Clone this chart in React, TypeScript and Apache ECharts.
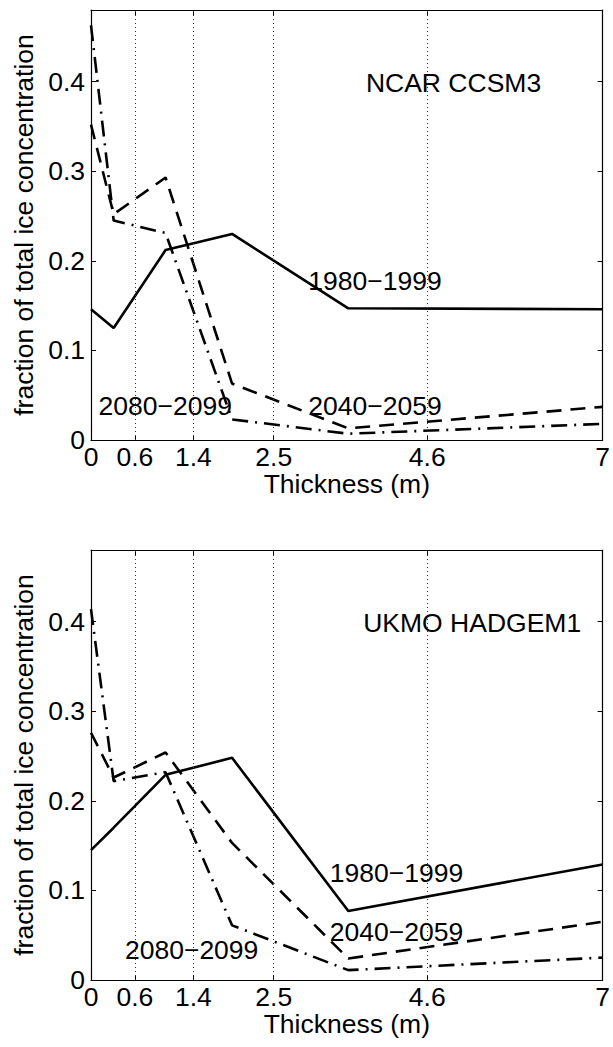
import React, { useEffect, useRef } from "react";
import * as echarts from "echarts";

// Thickness (m) at which the fractions are given
const thickness = [0, 0.31, 1.02, 1.93, 3.52, 7];
// category boundaries drawn as dotted grid lines / tick labels
const xTicks = [0, 0.6, 1.4, 2.5, 4.6, 7];
const gridBounds = [0.6, 1.4, 2.5, 4.6];
const yTicks = [0, 0.1, 0.2, 0.3, 0.4];

// NCAR CCSM3
const ncar1980 = [0.146, 0.125, 0.212, 0.23, 0.147, 0.146];
const ncar2040 = [0.352, 0.252, 0.293, 0.063, 0.013, 0.037];
const ncar2080 = [0.463, 0.245, 0.231, 0.023, 0.007, 0.018];

// UKMO HADGEM1
const ukmo1980 = [0.145, 0.17, 0.229, 0.248, 0.077, 0.129];
const ukmo2040 = [0.276, 0.226, 0.254, 0.153, 0.024, 0.065];
const ukmo2080 = [0.414, 0.222, 0.232, 0.061, 0.011, 0.025];

const panelTitles = ["NCAR CCSM3", "UKMO HADGEM1"];
const periods = ["1980\u22121999", "2040\u22122059", "2080\u22122099"];

// text annotation anchors in data units [x, y]
const ncarLabelPos = [
  [4.96, 0.399],
  [3.885, 0.1775],
  [3.885, 0.038],
  [1.015, 0.038],
];
const ukmoLabelPos = [
  [5.215, 0.399],
  [4.18, 0.119],
  [4.18, 0.054],
  [1.377, 0.034],
];

const FONT = "'Liberation Sans', Arial, Helvetica, sans-serif";
const FS = 26.5;

function pairs(ys: number[]) {
  return thickness.map((x, i) => [x, ys[i]]);
}

function buildPanel(g: number, lines: number[][], title: string, labelPos: number[][]) {
  const xb = 2 * g;
  const yl = 2 * g;
  const axisLine = { show: true, onZero: false, lineStyle: { color: "#000", width: 1.2 } };
  const xAxes = [
    {
      type: "value",
      gridIndex: g,
      min: 0,
      max: 7,
      position: "bottom",
      name: "Thickness (m)",
      nameLocation: "middle",
      nameGap: 27,
      nameTextStyle: { fontFamily: FONT, fontSize: FS, color: "#000" },
      axisLine,
      axisTick: { show: true, inside: true, length: 5, customValues: xTicks, lineStyle: { color: "#000" } },
      axisLabel: { show: true, margin: 3, customValues: xTicks, fontFamily: FONT, fontSize: FS, color: "#000" },
      splitLine: { show: false },
    },
    {
      type: "value",
      gridIndex: g,
      min: 0,
      max: 7,
      position: "top",
      axisLine,
      axisTick: { show: true, inside: true, length: 5, customValues: xTicks, lineStyle: { color: "#000" } },
      axisLabel: { show: false },
      splitLine: { show: false },
    },
  ];
  const yAxes = [
    {
      type: "value",
      gridIndex: g,
      min: 0,
      max: 0.48,
      position: "left",
      name: "fraction of total ice concentration",
      nameLocation: "middle",
      nameGap: 52,
      nameTextStyle: { fontFamily: FONT, fontSize: FS, color: "#000" },
      axisLine,
      axisTick: { show: true, inside: true, length: 5, customValues: yTicks, lineStyle: { color: "#000" } },
      axisLabel: { show: true, margin: 6, customValues: yTicks, fontFamily: FONT, fontSize: FS, color: "#000" },
      splitLine: { show: false },
    },
    {
      type: "value",
      gridIndex: g,
      min: 0,
      max: 0.48,
      position: "right",
      axisLine,
      axisTick: { show: true, inside: true, length: 5, customValues: yTicks, lineStyle: { color: "#000" } },
      axisLabel: { show: false },
      splitLine: { show: false },
    },
  ];
  const styles: any[] = ["solid", [15, 9], [16, 7, 2, 7]];
  const series: any[] = lines.map((ys, i) => ({
    type: "line",
    name: periods[i] + " " + title,
    xAxisIndex: xb,
    yAxisIndex: yl,
    data: pairs(ys),
    symbol: "none",
    z: 3,
    lineStyle: { color: "#000", width: 2.6, type: styles[i] },
  }));
  series.push({
    type: "line",
    xAxisIndex: xb,
    yAxisIndex: yl,
    data: [],
    z: 1,
    markLine: {
      silent: true,
      symbol: ["none", "none"],
      label: { show: false },
      lineStyle: { color: "#333", width: 1, type: [1, 3] },
      data: gridBounds.map((v) => ({ xAxis: v })),
    },
  });
  const texts = [title, ...periods];
  series.push({
    type: "scatter",
    xAxisIndex: xb,
    yAxisIndex: yl,
    symbolSize: 0,
    silent: true,
    itemStyle: { color: "#000", opacity: 1 },
    z: 5,
    data: labelPos.map((p, i) => ({ value: p, name: texts[i] })),
    label: {
      show: true,
      position: "inside",
      formatter: "{b}",
      fontFamily: FONT,
      fontSize: FS,
      color: "#000",
      opacity: 1,
      textBorderWidth: 0,
    },
  });
  return { xAxes, yAxes, series };
}

export default function App() {
  const ref = useRef<HTMLDivElement>(null);
  useEffect(() => {
    if (!ref.current) return;
    const chart = echarts.init(ref.current, null, { renderer: "svg" });
    const p0 = buildPanel(0, [ncar1980, ncar2040, ncar2080], panelTitles[0], ncarLabelPos);
    const p1 = buildPanel(1, [ukmo1980, ukmo2040, ukmo2080], panelTitles[1], ukmoLabelPos);
    chart.setOption({
      animation: false,
      backgroundColor: "#fff",
      grid: [
        { left: 91, top: 10, width: 515, height: 430 },
        { left: 91, top: 550, width: 515, height: 430 },
      ],
      xAxis: [...p0.xAxes, ...p1.xAxes],
      yAxis: [...p0.yAxes, ...p1.yAxes],
      series: [...p0.series, ...p1.series],
    });
    return () => chart.dispose();
  }, []);
  return (
    <div
      ref={ref}
      style={{ position: "fixed", left: 0, top: 0, width: 613, height: 1047, background: "#fff" }}
    />
  );
}
